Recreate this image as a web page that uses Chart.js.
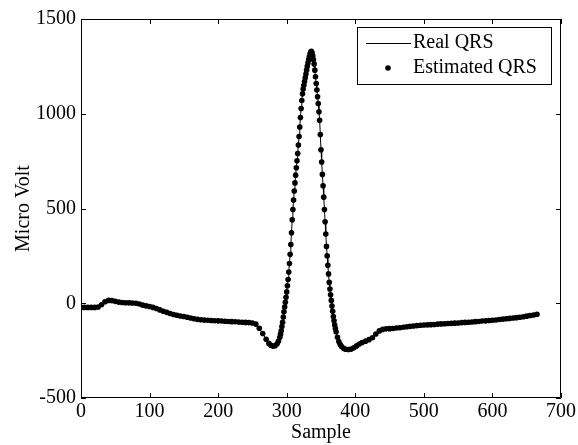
<!DOCTYPE html>
<html>
<head>
<meta charset="utf-8">
<script src="https://cdn.jsdelivr.net/npm/chart.js@4/dist/chart.umd.min.js"></script>
<style>
  html, body { margin: 0; padding: 0; background: #fff; }
  #wrap { width: 578px; height: 445px; }
</style>
</head>
<body>
<div id="wrap"><canvas id="qrsChart" width="578" height="445"></canvas></div>
<script>
// Sample index of each reading (denser through the QRS complex)
const samples = [
  0, 5, 10, 15, 20, 25, 30, 35, 40, 45, 50, 55, 60, 65, 70, 75, 80, 85, 90, 95,
  100, 105, 110, 115, 120, 125, 130, 135, 140, 145, 150, 155, 160, 165, 170, 175, 180, 185, 190, 195,
  200, 205, 210, 215, 220, 225, 230, 235, 240, 245, 250, 255, 260, 265, 270, 274, 277, 280, 283, 286, 288,
  290, 291, 292, 293, 294, 295, 296, 297, 298, 299, 300, 301, 302, 303, 304, 305, 306, 307, 308, 309,
  310, 311, 312, 313, 314, 315, 316, 317, 318, 319, 320, 321, 322, 323, 324, 325, 326, 327, 328, 329,
  330, 331, 332, 333, 334, 335, 336, 337, 338, 339, 340, 341, 342, 343, 344, 345, 346, 347, 348, 349,
  350, 351, 352, 353, 354, 355, 356, 357, 358, 359, 360, 361, 362, 363, 364, 365, 366, 367, 368, 369,
  370, 371, 372, 374, 376, 378, 380, 383, 386, 390, 394, 398, 402, 406, 410, 415, 420, 425, 430, 435,
  440, 445, 450, 455, 460, 465, 470, 475, 480, 485, 490, 495, 500, 505, 510, 515, 520, 525, 530, 535,
  540, 545, 550, 555, 560, 565, 570, 575, 580, 585, 590, 595, 600, 605, 610, 615, 620, 625, 630, 635,
  640, 645, 650, 655, 660, 665
];

// Real QRS in micro volt
const realQRS = [
  -22, -22, -22, -22, -22, -20, -8, 8, 15, 14, 10, 6, 4, 3, 2, 1, 0, -4, -10, -14,
  -17, -22, -28, -35, -42, -48, -54, -59, -63, -67, -70, -74, -78, -82, -85, -87, -89, -90, -91, -92,
  -93, -94, -95, -96, -97, -98, -99, -100, -101, -102, -104, -110, -132, -160, -190, -212, -222, -226, -224, -214, -200,
  -180, -163, -145, -123, -100, -73, -45, -20, 5, 32, 60, 92, 125, 165, 210, 258, 310, 372, 440, 495,
  545, 592, 635, 676, 715, 752, 790, 835, 880, 930, 980, 1028, 1070, 1105, 1130, 1150, 1170, 1190, 1210, 1230,
  1250, 1268, 1285, 1300, 1315, 1325, 1330, 1320, 1305, 1285, 1262, 1230, 1195, 1160, 1125, 1090, 1054, 1010, 966, 890,
  810, 745, 680, 620, 560, 495, 430, 365, 300, 250, 200, 155, 110, 75, 45, 15, -15, -42, -70, -93,
  -115, -133, -150, -180, -202, -218, -228, -238, -243, -244, -242, -235, -225, -215, -207, -200, -192, -182, -162, -146,
  -138, -135, -134, -133, -131, -129, -127, -124, -122, -120, -118, -116, -115, -114, -113, -112, -110, -109, -108, -107,
  -106, -105, -104, -102, -101, -100, -99, -97, -96, -94, -93, -91, -90, -88, -86, -84, -82, -80, -78, -76,
  -74, -71, -68, -65, -62, -58
];

// The estimate lies on top of the real trace everywhere in the figure
const estimatedQRS = realQRS.slice();

const xTicks = [0, 100, 200, 300, 400, 500, 600, 700];
const yTicks = [-500, 0, 500, 1000, 1500];

const toPoints = ys => samples.map((s, i) => ({ x: s, y: ys[i] }));

Chart.defaults.font.family = "'Liberation Serif', 'Times New Roman', serif";
Chart.defaults.font.size = 20;
Chart.defaults.color = '#000';

// MATLAB style box: frame, inward ticks on all four sides, legend inside the axes
const matlabFrame = {
  id: 'matlabFrame',
  afterDraw(chart) {
    const { ctx, chartArea: ca, scales } = chart;
    const tick = 5;
    ctx.save();
    ctx.strokeStyle = '#000';
    ctx.lineWidth = 1;
    ctx.beginPath();
    ctx.rect(ca.left + 0.5, ca.top + 0.5, ca.right - ca.left - 1, ca.bottom - ca.top - 1);
    xTicks.forEach(v => {
      const px = Math.round(scales.x.getPixelForValue(v)) + 0.5;
      ctx.moveTo(px, ca.bottom); ctx.lineTo(px, ca.bottom - tick);
      ctx.moveTo(px, ca.top); ctx.lineTo(px, ca.top + tick);
    });
    yTicks.forEach(v => {
      const py = Math.round(scales.y.getPixelForValue(v)) + 0.5;
      ctx.moveTo(ca.left, py); ctx.lineTo(ca.left + tick, py);
      ctx.moveTo(ca.right, py); ctx.lineTo(ca.right - tick, py);
    });
    ctx.stroke();

    // legend
    const w = 194, h = 57;
    const lx = ca.right - 10 - w, ly = ca.top + 8;
    ctx.fillStyle = '#fff';
    ctx.fillRect(lx, ly, w, h);
    ctx.strokeRect(lx + 0.5, ly + 0.5, w, h);
    const real = chart.data.datasets[0], est = chart.data.datasets[1];
    ctx.beginPath();
    ctx.moveTo(lx + 9, ly + 16.5); ctx.lineTo(lx + 54, ly + 16.5);
    ctx.strokeStyle = real.borderColor;
    ctx.stroke();
    ctx.beginPath();
    ctx.arc(lx + 31, ly + 41, est.pointRadius, 0, Math.PI * 2);
    ctx.fillStyle = est.pointBackgroundColor;
    ctx.fill();
    ctx.fillStyle = '#000';
    ctx.font = "20px 'Liberation Serif', serif";
    ctx.textBaseline = 'middle';
    ctx.fillText(real.label, lx + 56, ly + 16);
    ctx.fillText(est.label, lx + 56, ly + 41);
    ctx.restore();
  }
};

new Chart(document.getElementById('qrsChart'), {
  type: 'scatter',
  data: {
    datasets: [{
      label: 'Real QRS',
      data: toPoints(realQRS),
      showLine: true,
      borderColor: '#000',
      borderWidth: 1,
      pointRadius: 0,
      tension: 0
    }, {
      label: 'Estimated QRS',
      data: toPoints(estimatedQRS),
      showLine: false,
      pointRadius: 2.8,
      pointBackgroundColor: '#000',
      pointBorderWidth: 0
    }]
  },
  options: {
    responsive: false,
    animation: false,
    devicePixelRatio: 1,
    layout: { padding: { top: 19, right: 15, left: 0, bottom: 0 } },
    plugins: {
      legend: { display: false },
      tooltip: { enabled: false }
    },
    scales: {
      x: {
        type: 'linear',
        min: 0,
        max: 700,
        afterBuildTicks: s => { s.ticks = xTicks.map(v => ({ value: v })); },
        afterFit: s => { s.height = 47; },
        grid: { display: false, drawTicks: false },
        border: { display: false },
        ticks: { padding: 2, maxRotation: 0, callback: v => String(v) },
        title: { display: true, text: 'Sample', padding: { top: 0, bottom: 0 } }
      },
      y: {
        type: 'linear',
        min: -500,
        max: 1500,
        afterBuildTicks: s => { s.ticks = yTicks.map(v => ({ value: v })); },
        afterFit: s => { s.width = 81; },
        grid: { display: false, drawTicks: false },
        border: { display: false },
        ticks: { padding: 5, callback: v => String(v) },
        title: { display: true, text: 'Micro Volt', padding: { top: 12, bottom: 0 } }
      }
    }
  },
  plugins: [matlabFrame]
});
</script>
</body>
</html>
